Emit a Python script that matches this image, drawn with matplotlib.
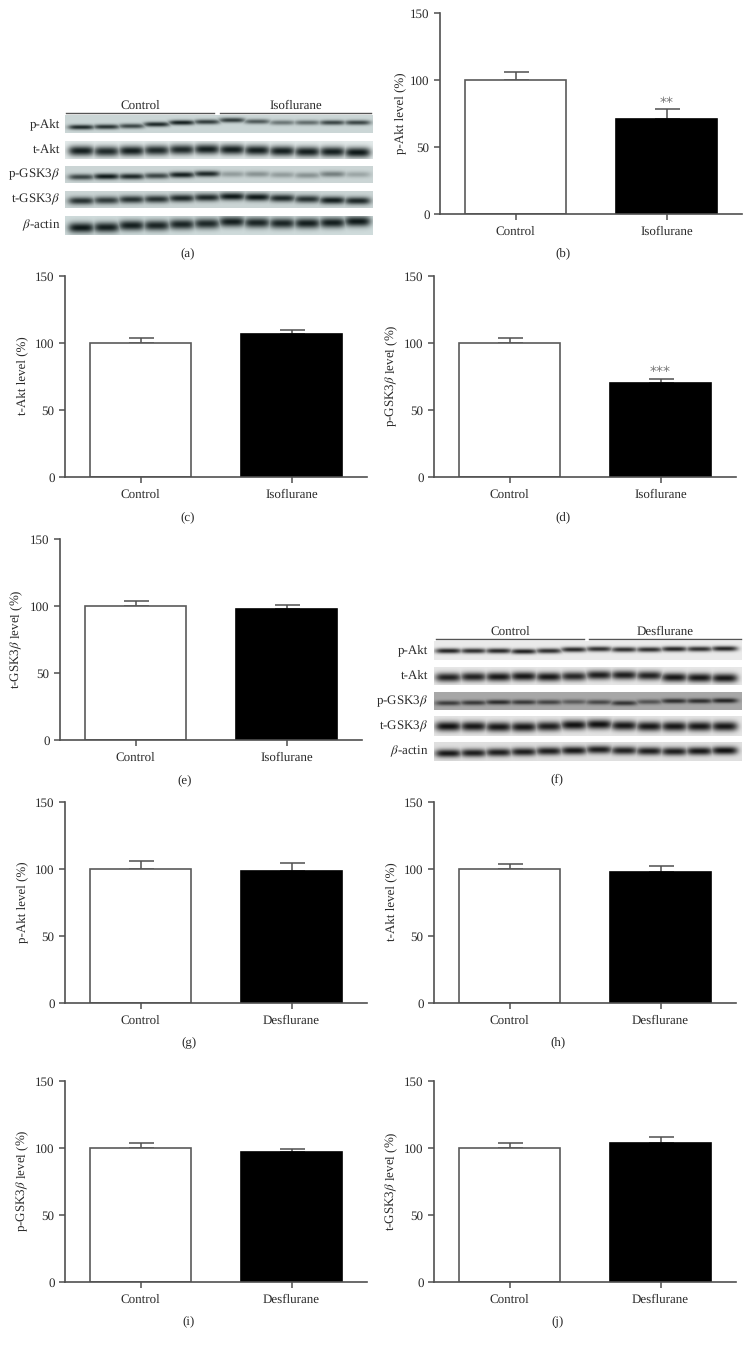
import matplotlib
matplotlib.use("Agg")
import matplotlib.pyplot as plt
import numpy as np

plt.rcParams["font.family"] = ["Liberation Serif", "DejaVu Serif"]
plt.rcParams["mathtext.fontset"] = "stix"
plt.rcParams["text.hinting"] = "none"
plt.rcParams["text.hinting_factor"] = 1

W, H = 750, 1348
AXIS_COLOR = "#505050"
TEXT_COLOR = "#2a2a2a"

# bar data
iso_names = ["Control", "Isoflurane"]
des_names = ["Control", "Desflurane"]

pakt_iso = [100, 71]
pakt_iso_err = [6, 7]
takt_iso = [100, 107]
takt_iso_err = [3.5, 2.5]
pgsk_iso = [100, 70]
pgsk_iso_err = [4, 3.5]
tgsk_iso = [100, 98]
tgsk_iso_err = [4, 3]
pakt_des = [100, 98.5]
pakt_des_err = [6, 6]
takt_des = [100, 98]
takt_des_err = [3.5, 4]
pgsk_des = [100, 97]
pgsk_des_err = [4, 2.5]
tgsk_des = [100, 103.5]
tgsk_des_err = [4, 5]

y_ticks = [0, 50, 100, 150]
blot_rows = ["p-Akt", "t-Akt", r"p-GSK3$\beta$", r"t-GSK3$\beta$", r"$\beta$-actin"]

# blot bands, one row per protein, one value per lane
# darkness 0-1, position is fraction from strip top
iso_dark = [
    [.90, .85, .75, .90, .95, .80, .80, .65, .50, .55, .75, .75],
    [.95, .90, .95, .90, .90, .95, .95, .95, .95, .95, .95, .98],
    [.75, .98, .90, .75, .95, .90, .30, .35, .30, .35, .45, .25],
    [.85, .80, .85, .85, .90, .90, .98, .98, .90, .85, .95, .90],
    [.98, .95, .95, .92, .92, .90, .95, .92, .92, .95, .95, .98],
]
iso_pos = [
    [.68, .66, .62, .52, .42, .38, .28, .36, .42, .42, .42, .42],
    [.55, .58, .55, .52, .48, .46, .48, .52, .56, .60, .60, .64],
    [.65, .62, .62, .58, .52, .46, .48, .48, .52, .55, .48, .50],
    [.58, .55, .50, .48, .42, .38, .32, .36, .42, .48, .55, .58],
    [.62, .60, .50, .50, .44, .40, .30, .35, .38, .38, .35, .28],
]
des_dark = [
    [.90, .85, .88, .92, .85, .88, .85, .85, .85, .90, .85, .90],
    [.90, .90, .95, .95, .95, .88, .92, .92, .90, .95, .95, .95],
    [.70, .72, .80, .72, .65, .50, .62, .75, .55, .78, .78, .85],
    [.98, .95, .95, .95, .92, .98, .98, .95, .95, .95, .95, .95],
    [.95, .92, .92, .92, .92, .95, .92, .90, .92, .92, .95, .98],
]
des_pos = [
    [.52, .52, .52, .55, .52, .45, .42, .45, .45, .42, .42, .40],
    [.58, .55, .55, .52, .55, .52, .45, .45, .48, .58, .60, .62],
    [.62, .60, .57, .57, .57, .55, .57, .62, .55, .50, .50, .48],
    [.52, .52, .55, .55, .52, .45, .42, .48, .52, .52, .52, .52],
    [.60, .58, .55, .52, .48, .45, .40, .45, .48, .50, .48, .45],
]
iso_thick = [.14, .29, .18, .23, .28]
des_thick = [.14, .26, .14, .25, .22]
iso_bg = ["#ccd7d7", "#e4ebeb", "#ccd6d6", "#ccd6d6", "#d0dcdc"]
des_bg = ["#ebebeb", "#e8e8e8", "#a8a8a8", "#e6e6e6", "#e0e0e0"]
iso_tone = "#0a1414"
des_tone = "#0c0c0c"


def px_axes(fig, left, top, right, bottom):
    return fig.add_axes([left / W, 1 - bottom / H, (right - left) / W, (bottom - top) / H])


def px_text(fig, x, y, s, **kw):
    kw.setdefault("ha", "center")
    kw.setdefault("va", "center")
    kw.setdefault("fontsize", 9.7)
    kw.setdefault("color", TEXT_COLOR)
    fig.text(x / W, 1 - y / H, s, **kw)


def bar_panel(fig, left, top, names, values, errs, ylabel, label, label_x, label_y, ylabel_x, stars=None):
    bottom = top + 201
    ax = px_axes(fig, left, top, left + 302, bottom)
    x = np.arange(2)
    ax.bar(x, values, width=0.667, color=["white", "black"],
           edgecolor=["#5a5a5a", "black"], linewidth=1.2, zorder=2)
    ax.errorbar(x, values, yerr=[[0, 0], errs], fmt="none", ecolor=AXIS_COLOR,
                elinewidth=1.1, capsize=9, capthick=1.1, zorder=1)
    ax.set_xlim(-0.5, 1.5)
    ax.set_ylim(0, 150)
    ax.set_xticks(x, names)
    ax.set_yticks(y_ticks)
    ax.tick_params(length=4.5, width=1.1, color=AXIS_COLOR, labelsize=9.7,
                   labelcolor=TEXT_COLOR, pad=3)
    ax.tick_params(axis="x", pad=4)
    for side in ["top", "right"]:
        ax.spines[side].set_visible(False)
    for side in ["left", "bottom"]:
        ax.spines[side].set_color(AXIS_COLOR)
        ax.spines[side].set_linewidth(1.2)
    ax.patch.set_alpha(0)
    if stars:
        ax.text(1, stars[1], stars[0], ha="center", va="center", fontsize=10,
                color="#777777", family="DejaVu Sans")
    px_text(fig, ylabel_x, top + 100, ylabel, rotation=90, fontsize=9.3)
    px_text(fig, label_x, label_y, label)


def strip_image(dark, pos, thick, bg, tone, first, last, left, right, n_x=308, n_y=40):
    xs = np.linspace(left, right, n_x)
    ys = np.linspace(0, 1, n_y)
    gx, gy = np.meshgrid(xs, ys)
    spacing = (last - first) / 11
    amount = np.zeros_like(gx)
    for lane in range(12):
        cx = first + lane * spacing
        a = dark[lane] * np.exp(-np.abs((gx - cx) / (spacing * 0.53)) ** 4) \
            * np.exp(-((gy - pos[lane]) / thick) ** 2)
        amount = np.maximum(amount, a)
    c0 = np.array(matplotlib.colors.to_rgb(bg))
    c1 = np.array(matplotlib.colors.to_rgb(tone))
    return c0[None, None, :] * (1 - amount[..., None]) + c1[None, None, :] * amount[..., None]


def blot_panel(fig, left, right, strips, dark, pos, thick, bg, tone, first, last, lines, line_y, groups,
               label_right):
    for i, (top, bottom) in enumerate(strips):
        ax = px_axes(fig, left, top, right, bottom)
        ax.imshow(strip_image(dark[i], pos[i], thick[i], bg[i], tone, first, last, left, right),
                  aspect="auto", interpolation="bilinear")
        ax.axis("off")
        px_text(fig, label_right, (top + bottom) / 2, blot_rows[i], ha="right")
    for (x0, x1), name in zip(lines, groups):
        fig.add_artist(plt.Line2D([x0 / W, x1 / W], [1 - line_y / H] * 2, color="#555555", lw=1.0))
        px_text(fig, (x0 + x1) / 2, line_y - 7, name)


fig = plt.figure(figsize=(W / 100, H / 100), dpi=100)

blot_panel(fig, 65, 373, [(115, 133), (141, 159), (166, 183), (191, 208), (216, 235)],
           iso_dark, iso_pos, iso_thick, iso_bg, iso_tone, 81, 358,
           [(66, 214), (220, 371)], 113, iso_names, 60)
px_text(fig, 188, 253, "(a)")

blot_panel(fig, 434, 742, [(641, 660), (667, 685), (692, 710), (716, 736), (742, 761)],
           des_dark, des_pos, des_thick, des_bg, des_tone, 448, 725,
           [(436, 584), (589, 741)], 639, des_names, 428)
px_text(fig, 557, 779, "(f)")

bar_panel(fig, 440, 13, iso_names, pakt_iso, pakt_iso_err, "p-Akt level (%)", "(b)", 563, 253, 400, ("**", 83))
bar_panel(fig, 65, 276, iso_names, takt_iso, takt_iso_err, "t-Akt level (%)", "(c)", 188, 517, 22)
bar_panel(fig, 434, 276, iso_names, pgsk_iso, pgsk_iso_err, r"p-GSK3$\beta$ level (%)", "(d)", 563, 517, 391,
          ("***", 78))
bar_panel(fig, 60, 539, iso_names, tgsk_iso, tgsk_iso_err, r"t-GSK3$\beta$ level (%)", "(e)", 185, 780, 16)
bar_panel(fig, 65, 802, des_names, pakt_des, pakt_des_err, "p-Akt level (%)", "(g)", 189, 1042, 22)
bar_panel(fig, 434, 802, des_names, takt_des, takt_des_err, "t-Akt level (%)", "(h)", 558, 1042, 391)
bar_panel(fig, 65, 1081, des_names, pgsk_des, pgsk_des_err, r"p-GSK3$\beta$ level (%)", "(i)", 189, 1321, 22)
bar_panel(fig, 434, 1081, des_names, tgsk_des, tgsk_des_err, r"t-GSK3$\beta$ level (%)", "(j)", 558, 1321, 391)

fig.savefig("out.png", dpi=100)
